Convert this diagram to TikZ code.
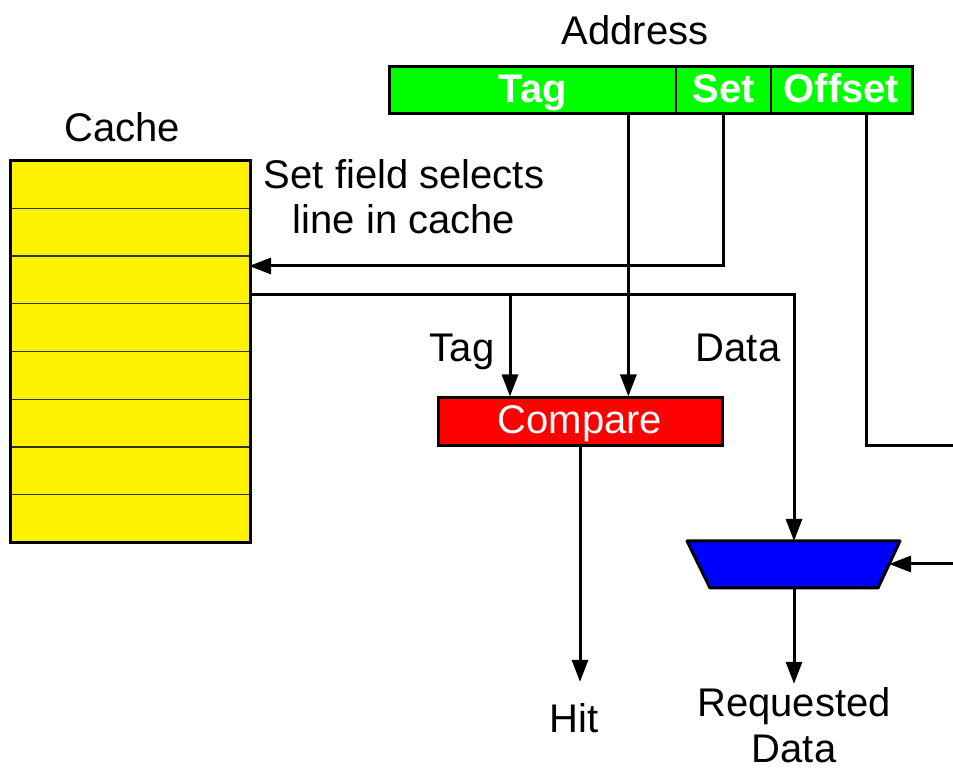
\documentclass[tikz,border=0pt]{standalone}
\usepackage{fontspec}
\setmainfont{Liberation Sans}
\usetikzlibrary{arrows.meta,calc}

\begin{document}
\begin{tikzpicture}[
  x=0.5pt, y=-0.5pt,
  >={Triangle[length=11pt,width=8pt]},
  line width=1.5pt,
  font=\fontsize{20}{22.5}\selectfont,
  field/.style={draw,line width=0.6pt,fill=green,text=white,
    font=\fontsize{20}{22.5}\selectfont\bfseries,minimum height=23pt,inner sep=0pt,
    text height=14.5pt,text depth=1.5pt},
  txt/.style={align=center,inner sep=3pt},
  row/.style={draw=black!80,line width=0.6pt}
]
  \useasboundingbox (0,0) rectangle (953,769);

  % Address fields
  \node (addr) at (635,30) {Address};
  \node[field,minimum width=143pt] (tagf) at (533,90) {Tag};
  \node[field,minimum width=47.5pt] (setf) at (723.5,90) {Set};
  \node[field,minimum width=70.5pt] (offf) at (841.5,90) {Offset};
  \draw (tagf.north west) rectangle (offf.south east);

  % Cache with eight lines
  \node (cachelbl) at (122,127) {Cache};
  \node[fill=yellow,minimum width=118.5pt,minimum height=189.5pt,inner sep=0pt]
    (cache) at (130.5,351.5) {};
  \foreach \i in {1,...,7}
    \draw[row] ($(cache.north west)!\i/8!(cache.south west)$)
      -- ($(cache.north east)!\i/8!(cache.south east)$);
  \draw (cache.north west) rectangle (cache.south east);

  \node[txt] (note) at (404,197) {Set field selects\\line in cache};
  \node[anchor=base] (taglbl) at (462,362) {Tag};
  \node[anchor=base] (datalbl) at (738,362) {Data};

  % Compare and mux
  \node[draw,fill=red,text=white,minimum width=142pt,minimum height=24pt,inner sep=0pt,
    text height=14.3pt,text depth=3pt]
    (cmp) at (580,422) {Compare};
  \draw[fill=blue,line join=round] (687,541) -- (900,541) -- (878,588) -- (710,588) -- cycle;
  \coordinate (muxn) at (794,541);
  \coordinate (muxs) at (794,588);
  \coordinate (muxe) at (889,564);

  \node[txt] (hit) at (574,718) {Hit};
  \node[txt,font=\fontsize{20}{23}\selectfont] (rq) at (794,725) {Requested\\Data};

  % wires
  \coordinate (tagpt) at ($(tagf.south west)!0.832!(tagf.south east)$);
  \coordinate (offpt) at ($(offf.south west)!0.674!(offf.south east)$);
  \coordinate (setrow) at (249,266);
  \coordinate (rdrow) at (249,295);
  \coordinate (tap) at (510,295);
  \coordinate (offend) at (953,446);
  \coordinate (selsrc) at (953,564);

  \draw[->] (tagpt) -- (tagpt |- cmp.north);
  \draw[->] (setf.south) |- (setrow);
  \draw (offpt) |- (offend);
  \draw[->] (rdrow) -| (muxn);
  \draw[->] (tap) -- (tap |- cmp.north);
  \draw[->] (selsrc) -- (muxe);
  \draw[->,shorten >=7pt] (cmp.south) -- (cmp.south |- hit.north);
  \draw[->,shorten >=-2pt] (muxs) -- (muxs |- rq.north);
\end{tikzpicture}
\end{document}
